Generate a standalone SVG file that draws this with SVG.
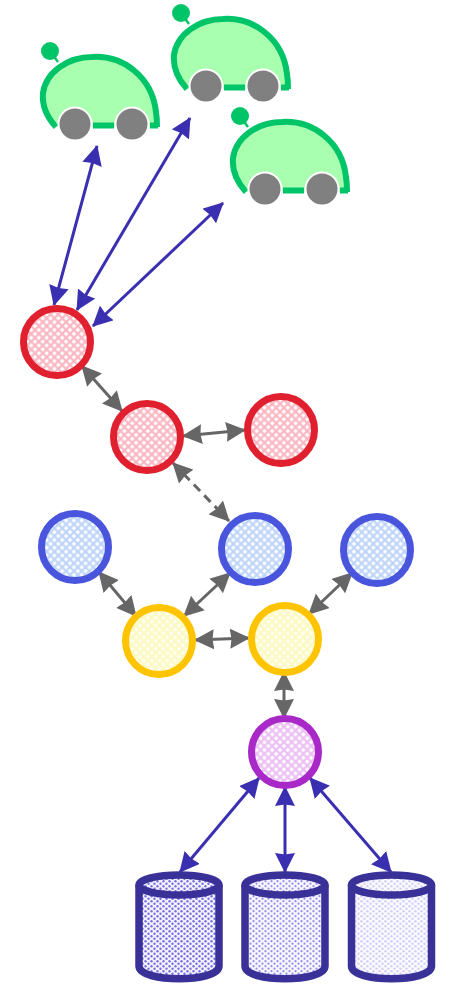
<svg xmlns="http://www.w3.org/2000/svg" width="449" height="988" viewBox="0 0 449 988">
<style>
.n{stroke-width:7}
.b{stroke:#3a2fb0;stroke-width:3;fill:none;marker-start:url(#hb);marker-end:url(#hb)}
.g{stroke:#666;stroke-width:3;fill:none;marker-start:url(#hg);marker-end:url(#hg)}
.cyl{stroke:#3a3198;stroke-width:7.500}
.wheel{fill:#808080;stroke:#fff;stroke-width:2}
</style>
<defs>
<marker id="hb" viewBox="0 0 20 20" refX="19" refY="10" markerWidth="20" markerHeight="20" markerUnits="userSpaceOnUse" orient="auto-start-reverse"><path d="M0 0L20 10L0 20L1.500 10Z" fill="#3a2fb0"/></marker>
<marker id="hg" viewBox="0 0 20 20" refX="19" refY="10" markerWidth="20" markerHeight="20" markerUnits="userSpaceOnUse" orient="auto-start-reverse"><path d="M0 0L20 10L0 20L1.500 10Z" fill="#666"/></marker>
<pattern id="pr" width="5.500" height="5.500" patternUnits="userSpaceOnUse" patternTransform="rotate(45)"><rect width="5.500" height="5.500" fill="#fbb4c0"/><rect x=".6" y=".6" width="3.400" height="3.400" fill="#fff"/></pattern>
<pattern id="pb" width="5.500" height="5.500" patternUnits="userSpaceOnUse" patternTransform="rotate(45)"><rect width="5.500" height="5.500" fill="#bcd4fa"/><rect x=".6" y=".6" width="3.400" height="3.400" fill="#fff"/></pattern>
<pattern id="py" width="5.500" height="5.500" patternUnits="userSpaceOnUse" patternTransform="rotate(45)"><rect width="5.500" height="5.500" fill="#fdf9c0"/><rect x=".6" y=".6" width="3.400" height="3.400" fill="#fffff4"/></pattern>
<pattern id="pp" width="5.500" height="5.500" patternUnits="userSpaceOnUse" patternTransform="rotate(45)"><rect width="5.500" height="5.500" fill="#ecbdf5"/><rect x=".6" y=".6" width="3.400" height="3.400" fill="#fff"/></pattern>
<pattern id="d1" width="6" height="5" patternUnits="userSpaceOnUse"><rect width="6" height="5" fill="#f4f3fd"/><circle cx="1.500" cy="1.200" r="1.200" fill="#7a70e0"/><circle cx="4.500" cy="3.700" r="1.200" fill="#7a70e0"/></pattern>
<pattern id="d2" width="6" height="5" patternUnits="userSpaceOnUse"><rect width="6" height="5" fill="#f7f6fe"/><circle cx="1.500" cy="1.200" r="1.100" fill="#958ee9"/><circle cx="4.500" cy="3.700" r="1.100" fill="#958ee9"/></pattern>
<pattern id="d3" width="6" height="5" patternUnits="userSpaceOnUse"><rect width="6" height="5" fill="#fafaff"/><circle cx="1.500" cy="1.200" r="1.200" fill="#d2cff7"/><circle cx="4.500" cy="3.700" r="1.200" fill="#d2cff7"/></pattern>
<g id="car">
<path d="M58 62L50 51" stroke="#00c468" stroke-width="2.500" fill="none"/>
<circle cx="50" cy="51" r="9" fill="#00c468"/>
<path d="M56 127C45 115 42 104 43 93C46 72 68 57 92 57C122 55 152 76 156 112C157 118 157 122 157 127H56Z" fill="#a8ffb0"/>
<path d="M56 127C45 115 42 104 43 93C46 72 68 57 92 57C122 55 152 76 156 112C157 118 157 122 157 127M150 125.500H158M93 125.500H114" fill="none" stroke="#00c468" stroke-width="6"/>
<circle class="wheel" cx="75" cy="124" r="16.500"/>
<circle class="wheel" cx="132" cy="124" r="16.500"/>
</g>
</defs>
<g id="connectors">
<path class="b" d="M97 146L54 305"/>
<path class="b" d="M190 118L77 310"/>
<path class="b" d="M223 203L93 326"/>
<path class="g" d="M82 366L122 411"/>
<path class="g" d="M183 436L245 430"/>
<path class="g" d="M173 463L229 521" stroke-dasharray="9 6"/>
<path class="g" d="M99 572L136 616"/>
<path class="g" d="M230 573L184 616"/>
<path class="g" d="M352 573L309 614"/>
<path class="g" d="M195 640L249 638"/>
<path class="g" d="M284 672V718"/>
<path class="b" d="M259 778L180 872"/>
<path class="b" d="M285 787V872"/>
<path class="b" d="M310 778L391 872"/>
</g>
<g id="car1"><use href="#car"/></g>
<g id="car2"><use href="#car" x="131" y="-38"/></g>
<g id="car3"><use href="#car" x="190" y="65"/></g>
<g id="red1"><circle class="n" cx="57" cy="342" r="33.500" fill="url(#pr)" stroke="#e0202e"/></g>
<g id="red2"><circle class="n" cx="147" cy="437" r="33.500" fill="url(#pr)" stroke="#e0202e"/></g>
<g id="red3"><circle class="n" cx="281" cy="430" r="33.500" fill="url(#pr)" stroke="#e0202e"/></g>
<g id="blue1"><circle class="n" cx="75" cy="547" r="33.500" fill="url(#pb)" stroke="#4a55dd"/></g>
<g id="blue2"><circle class="n" cx="255" cy="549" r="33.500" fill="url(#pb)" stroke="#4a55dd"/></g>
<g id="blue3"><circle class="n" cx="377" cy="550" r="33.500" fill="url(#pb)" stroke="#4a55dd"/></g>
<g id="yellow1"><circle class="n" cx="159" cy="641" r="33.500" fill="url(#py)" stroke="#ffc400"/></g>
<g id="yellow2"><circle class="n" cx="285" cy="639" r="33.500" fill="url(#py)" stroke="#ffc400"/></g>
<g id="purple"><circle class="n" cx="285" cy="752" r="33.500" fill="url(#pp)" stroke="#a828c8"/></g>
<g id="db1"><path class="cyl" fill="url(#d1)" d="M139 885V966C139 983 219 983 219 966V885"/><ellipse class="cyl" cx="179" cy="885" rx="40" ry="10" fill="url(#d1)"/></g>
<g id="db2"><path class="cyl" fill="url(#d2)" d="M245 885V966C245 983 325 983 325 966V885"/><ellipse class="cyl" cx="285" cy="885" rx="40" ry="10" fill="url(#d2)"/></g>
<g id="db3"><path class="cyl" fill="url(#d3)" d="M351.500 885V966C351.500 983 431.500 983 431.500 966V885"/><ellipse class="cyl" cx="391.500" cy="885" rx="40" ry="10" fill="url(#d3)"/></g>
</svg>
